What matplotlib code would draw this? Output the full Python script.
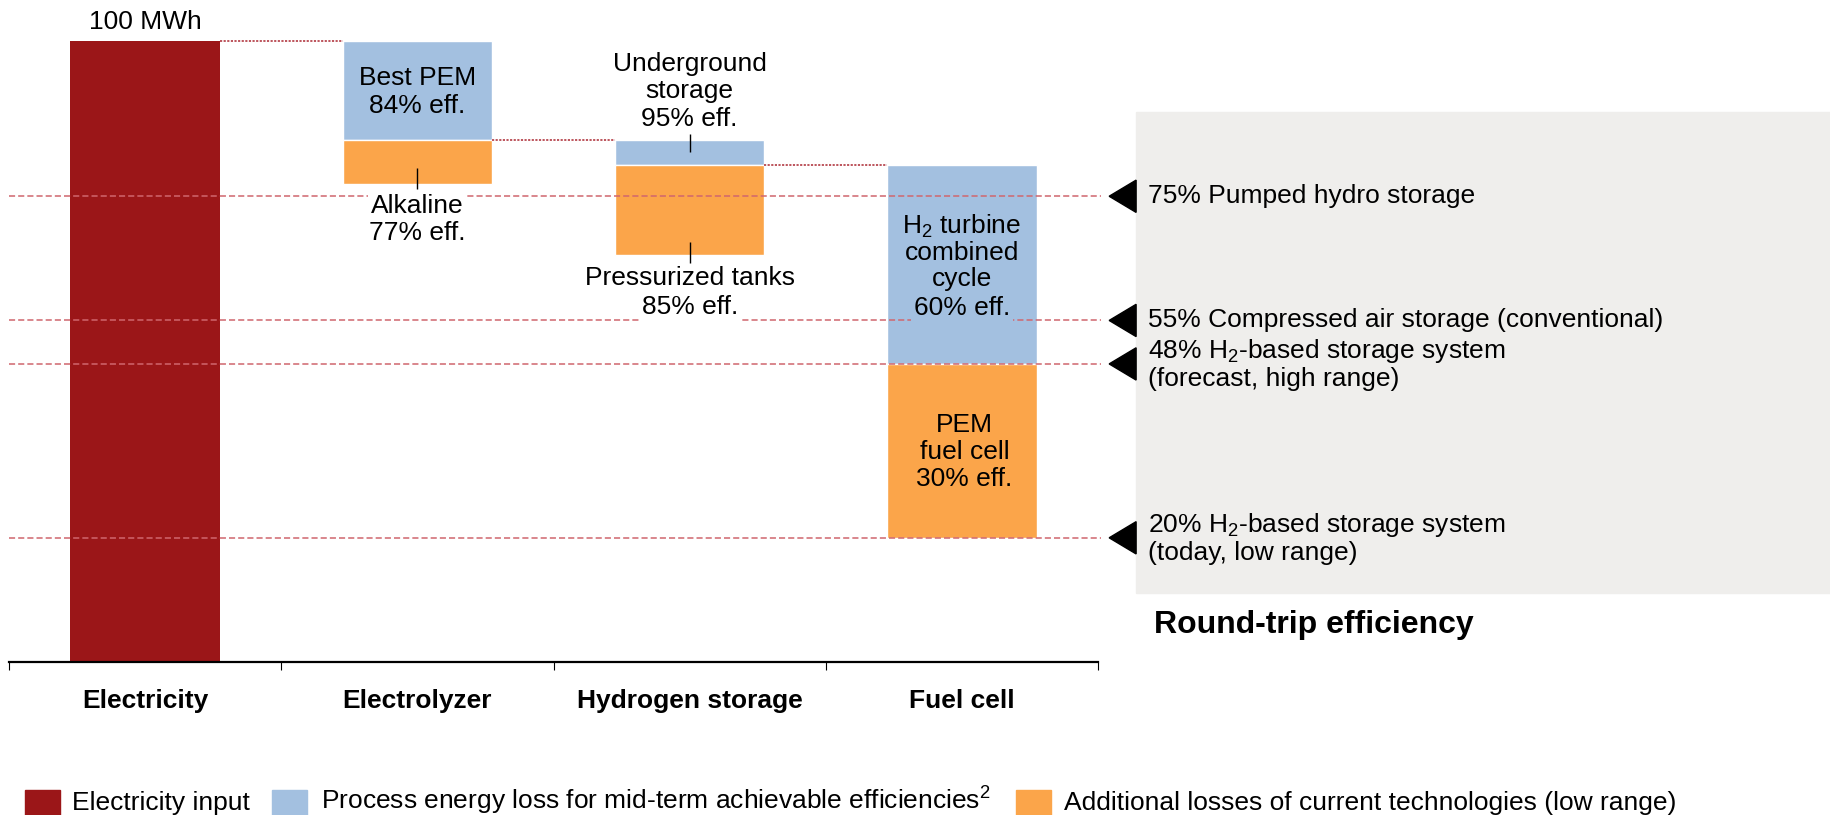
import matplotlib.pyplot as plt
from matplotlib.patches import Rectangle, Polygon

plt.rcParams["font.family"] = ["Liberation Sans", "DejaVu Sans"]
plt.rcParams["mathtext.fontset"] = "custom"
plt.rcParams["mathtext.rm"] = "Liberation Sans"
plt.rcParams["mathtext.it"] = "Liberation Sans:italic"
plt.rcParams["mathtext.bf"] = "Liberation Sans:bold"

categories = ["Electricity", "Electrolyzer", "Hydrogen storage", "Fuel cell"]
# energy left after each step (MWh), mid-term efficiency vs. current low range
midterm_level = [100, 84, 80, 48]
current_level = [100, 77, 65.5, 20]

benchmarks = [75, 55, 48, 20]
benchmark_labels = [
    "75% Pumped hydro storage",
    "55% Compressed air storage (conventional)",
    "48% H$_2$-based storage system\n(forecast, high range)",
    "20% H$_2$-based storage system\n(today, low range)",
]

legend_labels = [
    "Electricity input",
    "Process energy loss for mid-term achievable efficiencies$^2$",
    "Additional losses of current technologies (low range)",
]

RED = "#9b1618"
BLUE = "#a3c0e0"
ORANGE = "#fba54a"
GREY = "#efeeec"
DASH = "#d0666e"
FS = 19
LS = 1.17

W, H = 1831, 815
fig = plt.figure(figsize=(W / 100, H / 100), dpi=100)
ax = fig.add_axes([9 / W, 153 / H, 1089 / W, 662 / H])
ax.set_xlim(-0.5, 3.5)
ax.set_ylim(0, 662 / 6.21)

bw = 0.55
x = list(range(len(categories)))

# bars
ax.bar(x[0], midterm_level[0], width=bw, color=RED, zorder=2)
for i in range(1, len(categories)):
    ax.bar(x[i], midterm_level[i - 1] - midterm_level[i], bottom=midterm_level[i],
           width=bw, color=BLUE, edgecolor="white", linewidth=1.0, zorder=2)
    ax.bar(x[i], midterm_level[i] - current_level[i], bottom=current_level[i],
           width=bw, color=ORANGE, edgecolor="white", linewidth=1.0, zorder=2)

# step connectors
for i in range(len(categories) - 1):
    ax.plot([x[i] + bw / 2, x[i + 1] - bw / 2], [midterm_level[i]] * 2,
            color="#b84850", lw=1.3, ls=(0, (1.2, 0.8)), zorder=3)

# benchmark lines, arrows and labels
ax.add_patch(Rectangle((3.64, 11.1), 2.6, 77.5, color=GREY, clip_on=False, zorder=0))
for b, lab in zip(benchmarks, benchmark_labels):
    ax.hlines(b, -0.5, 3.51, colors=DASH, lw=1.1, linestyles=(0, (4, 2)),
              clip_on=False, zorder=3)
    ax.add_patch(Polygon([(3.541, b), (3.64, b + 2.6), (3.64, b - 2.6)],
                         closed=True, color="black", clip_on=False, zorder=4))
    ax.text(3.684, b, lab, fontsize=FS, va="center", ha="left",
            linespacing=1.08, clip_on=False, zorder=5)

ax.text(3.706, 6.0, "Round-trip efficiency", fontsize=23, fontweight="bold",
        va="center", ha="left", clip_on=False)

# bar annotations
ax.text(0, 103.0, "100 MWh", fontsize=FS, ha="center", va="center")
ax.text(1, 91.8, "Best PEM\n84% eff.", fontsize=FS, ha="center", va="center",
        linespacing=LS, zorder=5)
ax.text(1, 71.3, "Alkaline\n77% eff.", fontsize=FS, ha="center", va="center",
        linespacing=LS, zorder=5,
        bbox=dict(facecolor="white", edgecolor="none", pad=1))
ax.text(2, 91.9, "Underground\nstorage\n95% eff.", fontsize=FS, ha="center",
        va="center", linespacing=LS, zorder=5)
ax.text(2, 61.8, "Pressurized tanks", fontsize=FS, ha="center", va="center", zorder=5)
ax.text(2, 57.1, "85% eff.", fontsize=FS, ha="center", va="center", zorder=5,
        bbox=dict(facecolor="white", edgecolor="none", pad=2))
ax.text(3, 66.1, "H$_2$ turbine\ncombined\ncycle", fontsize=FS, ha="center",
        va="center", linespacing=1.08, zorder=5)
ax.text(3, 57.0, "60% eff.", fontsize=FS, ha="center", va="center", zorder=5,
        bbox=dict(facecolor=BLUE, edgecolor="none", pad=2))
ax.text(3.01, 33.8, "PEM\nfuel cell\n30% eff.", fontsize=FS, ha="center",
        va="center", linespacing=LS, zorder=5)

# leader lines
ax.vlines([2, 1, 2], [82.2, 76.2, 64.3], [85.0, 79.5, 67.6], colors="black",
          lw=1.0, zorder=5)

# axis
for s in ["top", "left", "right"]:
    ax.spines[s].set_visible(False)
ax.spines["bottom"].set_linewidth(1.6)
ax.set_yticks([])
ax.set_xticks(x)
ax.set_xticklabels(categories, fontsize=FS, fontweight="bold")
ax.tick_params(axis="x", which="major", length=0, pad=19.5)
ax.set_xticks([-0.5, 0.5, 1.5, 2.5, 3.5], minor=True)
ax.tick_params(axis="x", which="minor", length=6, width=0.8, direction="out")

# legend
legend_colors = [RED, BLUE, ORANGE]
sq_x = [25, 272, 1016]
txt_x = [72, 321, 1064]
for c, lab, sx, tx in zip(legend_colors, legend_labels, sq_x, txt_x):
    fig.patches.append(Rectangle((sx / W, -10 / H), 35 / W, 35 / H, color=c,
                                 transform=fig.transFigure))
    fig.text(tx / W, 5 / H, lab, fontsize=FS, va="baseline", ha="left")

fig.savefig("out.png", dpi=100)
